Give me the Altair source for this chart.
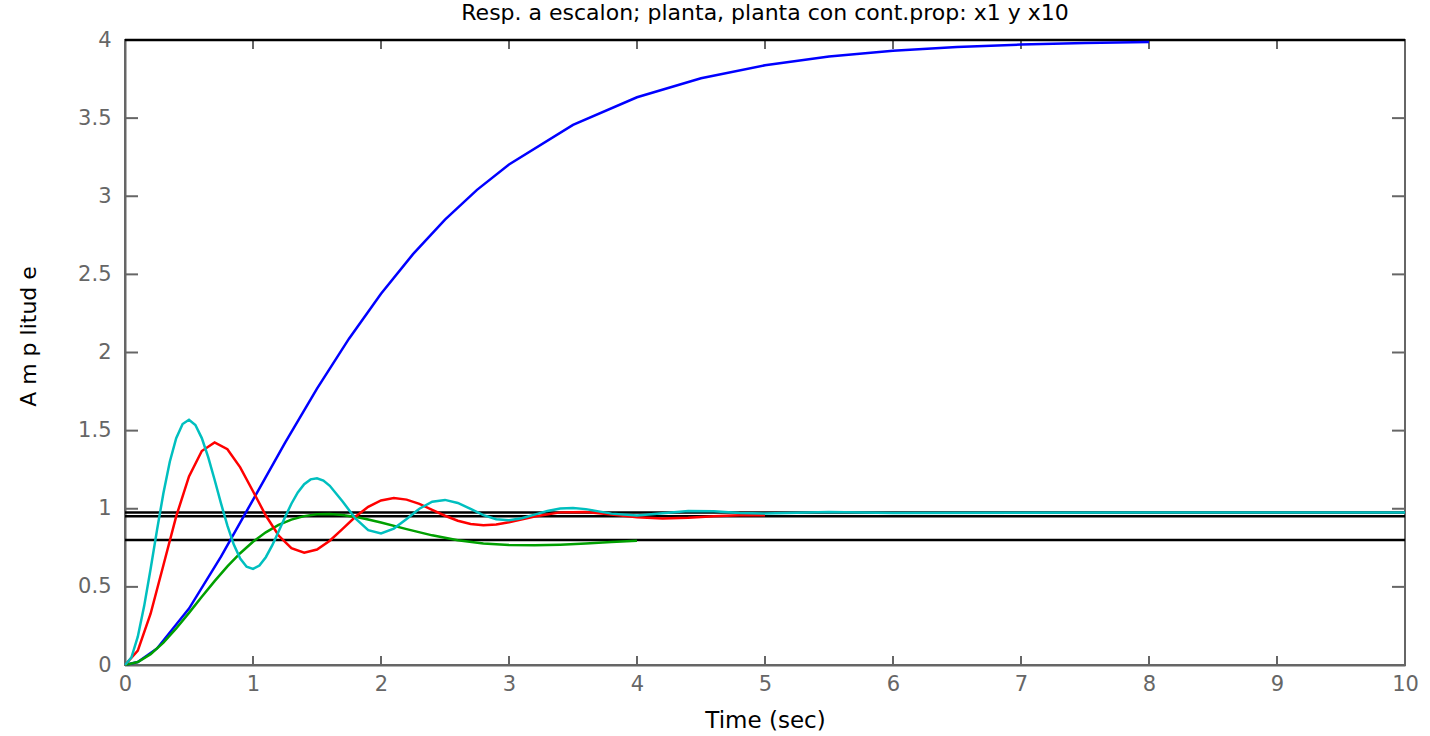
import altair as alt
import pandas as pd

# ---- data ----
t_blue = [0, 0.1, 0.25, 0.5, 0.75, 1, 1.25, 1.5, 1.75, 2, 2.25, 2.5, 2.75, 3, 3.5, 4, 4.5, 5, 5.5, 6, 6.5, 7, 7.5, 8]
y_blue = [0, 0.0187, 0.1060, 0.3608, 0.6934, 1.0570, 1.4215, 1.7687, 2.0885, 2.3760, 2.6298, 2.8508, 3.0411, 3.2034,
          3.4565, 3.6337, 3.7556, 3.8383, 3.8937, 3.9306, 3.9549, 3.9708, 3.9812, 3.9879]

t_green = [0, 0.1, 0.2, 0.3, 0.4, 0.5, 0.6, 0.7, 0.8, 0.9, 1.0, 1.1, 1.2, 1.3, 1.4, 1.5, 1.6, 1.7, 1.8, 1.9, 2.0,
           2.2, 2.4, 2.6, 2.8, 3.0, 3.2, 3.4, 3.6, 3.8, 4.0]
y_green = [0, 0.0187, 0.0692, 0.1435, 0.2340, 0.3337, 0.4363, 0.5367, 0.6308, 0.7155, 0.7887, 0.8491, 0.8963, 0.9306,
           0.9528, 0.9641, 0.9660, 0.9600, 0.9479, 0.9313, 0.9117, 0.8694, 0.8298, 0.7984, 0.7776, 0.7673, 0.7657,
           0.7702, 0.7780, 0.7868, 0.7949]

t_red = [0, 0.1, 0.2, 0.3, 0.4, 0.5, 0.6, 0.7, 0.8, 0.9, 1.0, 1.1, 1.2, 1.3, 1.4, 1.5, 1.6, 1.7, 1.8, 1.9, 2.0, 2.1,
         2.2, 2.3, 2.4, 2.5, 2.6, 2.7, 2.8, 2.9, 3.0, 3.2, 3.4, 3.6, 3.8, 4.0, 4.2, 4.4, 4.6, 4.8, 5.0]
y_red = [0, 0.0921, 0.3283, 0.6385, 0.9511, 1.2073, 1.3694, 1.4241, 1.3807, 1.2650, 1.1118, 0.9566, 0.8287, 0.7472,
         0.7188, 0.7392, 0.7958, 0.8714, 0.9485, 1.0125, 1.0534, 1.0681, 1.0585, 1.0308, 0.9935, 0.9552, 0.9234,
         0.9027, 0.8951, 0.8996, 0.9131, 0.9505, 0.9768, 0.9787, 0.9629, 0.9456, 0.9383, 0.9426, 0.9517, 0.9583,
         0.9589]

t_cyan = [0, 0.05, 0.1, 0.15, 0.2, 0.25, 0.3, 0.35, 0.4, 0.45, 0.5, 0.55, 0.6, 0.65, 0.7, 0.75, 0.8, 0.85, 0.9, 0.95,
          1.0, 1.05, 1.1, 1.15, 1.2, 1.25, 1.3, 1.35, 1.4, 1.45, 1.5, 1.55, 1.6,
          1.7, 1.8, 1.9, 2.0, 2.1, 2.2, 2.3, 2.4, 2.5, 2.6, 2.7, 2.8, 2.9, 3.0, 3.1, 3.2, 3.3, 3.4, 3.5, 3.6, 3.7, 3.8,
          4.0, 4.2, 4.4, 4.6, 4.8, 5.0, 5.5, 6, 7, 8, 10]
y_cyan = [0, 0.0480, 0.1812, 0.3784, 0.6146, 0.8633, 1.0992, 1.3007, 1.4516, 1.5421, 1.5692, 1.5363, 1.4523, 1.3302,
          1.1854, 1.0342, 0.8916, 0.7708, 0.6812, 0.6287, 0.6147, 0.6369, 0.6898, 0.7653, 0.8539, 0.9459, 1.0320,
          1.1045, 1.1576, 1.1880, 1.1950, 1.1801, 1.1469,
          1.0460, 0.9381, 0.8632, 0.8423, 0.8730, 0.9350, 1.0004, 1.0450, 1.0566, 1.0370, 0.9990, 0.9594, 0.9329,
          0.9265, 0.9389, 0.9622, 0.9862, 1.0020, 1.0054, 0.9976, 0.9832, 0.9688,
          0.9575, 0.9713, 0.9856, 0.9834, 0.9728, 0.9690, 0.9796, 0.9732, 0.9747, 0.9756, 0.9756]

ref_levels = [0.8, 0.9524, 0.9756, 4.0]
x_ticks = list(range(0, 11))
y_ticks = [0, 0.5, 1, 1.5, 2, 2.5, 3, 3.5, 4]

title_text = "Resp. a escalon; planta, planta con cont.prop: x1 y x10"

# ---- styling ----
FONT = "DejaVu Sans"
GRAY = "#666666"
XS = alt.Scale(domain=[0, 10], nice=False, zero=False)
YS = alt.Scale(domain=[0, 4], nice=False, zero=False)

X_AX = alt.Axis(values=x_ticks, title="Time (sec)", ticks=False, grid=False, labelFlush=False,
                domainColor=GRAY, domainWidth=2,
                labelColor=GRAY, labelFont=FONT, labelFontSize=21, labelPadding=8,
                titleFont=FONT, titleFontSize=23, titleFontWeight="normal", titleColor="black",
                titleX=640, titleY=44, titleBaseline="top", titleAlign="center")
Y_AX = alt.Axis(values=y_ticks, format="~g", title="A m p litud e", ticks=False, grid=False, labelFlush=False,
                domainColor=GRAY, domainWidth=2,
                labelColor=GRAY, labelFont=FONT, labelFontSize=21, labelPadding=14,
                titleFont=FONT, titleFontSize=22, titleFontWeight="normal", titleColor="black",
                titleX=-97, titleY=296, titleAngle=270, titleAlign="center", titleBaseline="middle")


def curve(t, y, color):
    df = pd.DataFrame({"t": t, "y": y})
    return alt.Chart(df).mark_line(color=color, strokeWidth=2.5).encode(
        x=alt.X("t:Q", scale=XS, axis=X_AX),
        y=alt.Y("y:Q", scale=YS, axis=Y_AX),
    )


levels = alt.Chart(pd.DataFrame({"y": ref_levels})).mark_rule(color="black", strokeWidth=2.5).encode(
    y=alt.Y("y:Q", scale=YS, axis=Y_AX)
)

xt = pd.DataFrame({"x": x_ticks})
yt = pd.DataFrame({"y": y_ticks})
tick_bottom = alt.Chart(xt).mark_rule(color=GRAY, strokeWidth=2).encode(
    x=alt.X("x:Q", scale=XS, axis=X_AX), y=alt.value(625), y2=alt.value(616))
tick_top = alt.Chart(xt).mark_rule(color=GRAY, strokeWidth=2).encode(
    x=alt.X("x:Q", scale=XS, axis=X_AX), y=alt.value(0), y2=alt.value(9))
tick_left = alt.Chart(yt).mark_rule(color=GRAY, strokeWidth=2).encode(
    y=alt.Y("y:Q", scale=YS, axis=Y_AX), x=alt.value(0), x2=alt.value(13))
tick_right = alt.Chart(yt).mark_rule(color=GRAY, strokeWidth=2).encode(
    y=alt.Y("y:Q", scale=YS, axis=Y_AX), x=alt.value(1267), x2=alt.value(1280))

chart = alt.layer(
    tick_bottom, tick_top, tick_left, tick_right,
    levels,
    curve(t_blue, y_blue, "#0000ff"),
    curve(t_green, y_green, "#00a000"),
    curve(t_red, y_red, "#ff0000"),
    curve(t_cyan, y_cyan, "#00bfbf"),
).properties(
    width=1280, height=625,
    title=alt.TitleParams(text=title_text, font=FONT, fontSize=22, fontWeight="normal",
                          color="black", anchor="middle", offset=4),
    autosize=alt.AutoSizeParams(type="none"),
    padding={"left": 125, "top": 40, "right": 25, "bottom": 71},
    background="white",
).configure_view(stroke=GRAY, strokeWidth=2)

chart.save("out.html", embed_options={"renderer": "svg", "actions": False})
